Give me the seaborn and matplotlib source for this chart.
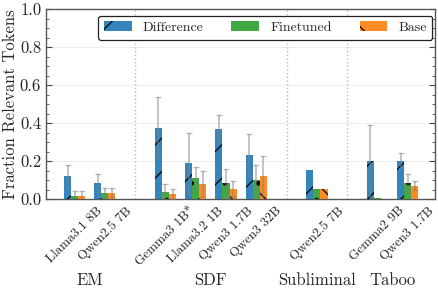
import numpy as np
import pandas as pd
import matplotlib
matplotlib.use("Agg")
import matplotlib.pyplot as plt
from matplotlib.patches import Patch
from matplotlib.ticker import AutoMinorLocator
import seaborn as sns

# ---------------- data ----------------
groups = ["EM", "SDF", "Subliminal", "Taboo"]
group_models = [
    ["Llama3.1 8B", "Qwen2.5 7B"],
    ["Gemma3 1B*", "Llama3.2 1B", "Qwen3 1.7B", "Qwen3 32B"],
    ["Qwen2.5 7B"],
    ["Gemma2 9B", "Qwen3 1.7B"],
]
series = ["Difference", "Finetuned", "Base"]
difference = [0.120, 0.083, 0.376, 0.190, 0.371, 0.230, 0.151, 0.202, 0.202]
difference_err = [0.060, 0.047, 0.160, 0.160, 0.070, 0.110, np.nan, 0.187, 0.041]
finetuned = [0.017, 0.033, 0.037, 0.112, 0.082, 0.100, 0.051, 0.003, 0.084]
finetuned_err = [0.025, 0.023, 0.042, 0.057, 0.075, 0.080, np.nan, np.nan, 0.046]
base = [0.017, 0.033, 0.025, 0.081, 0.053, 0.121, 0.051, 0.002, 0.069]
base_err = [0.025, 0.023, 0.026, 0.068, 0.044, 0.106, np.nan, np.nan, 0.024]
yticks = [0.0, 0.2, 0.4, 0.6, 0.8, 1.0]

# ---------------- layout helpers ----------------
positions, labels, group_centers, separators = [], [], [], []
p = 0
for gi, models in enumerate(group_models):
    start = p
    for m in models:
        positions.append(p)
        labels.append(m)
        p += 1
    group_centers.append((start + p - 1) / 2)
    if gi < len(group_models) - 1:
        separators.append(p)
        p += 1

values = [difference, finetuned, base]
errors = [difference_err, finetuned_err, base_err]
rows = []
for s, vals in zip(series, values):
    for pos, v in zip(positions, vals):
        rows.append({"pos": pos, "series": s, "value": v})
df = pd.DataFrame(rows)

# ---------------- style ----------------
sns.set_style("white")
plt.rcParams["font.family"] = ["cmr10", "DejaVu Serif"]
plt.rcParams["mathtext.fontset"] = "cm"
plt.rcParams["axes.formatter.use_mathtext"] = True
plt.rcParams["hatch.linewidth"] = 1.0

colors = ["#1f77b4", "#2ca02c", "#ff7f0e"]
hatches = ["/", ".", "\\"]

fig = plt.figure(figsize=(4.39, 2.92), dpi=100)
ax = fig.add_axes([0.105, 0.3185, 0.886, 0.6505])

sns.barplot(data=df, x="pos", y="value", hue="series", hue_order=series,
            palette=colors, saturation=1, native_scale=True, width=0.7,
            errorbar=None, legend=False, ax=ax, zorder=3)

bar_conts = list(ax.containers)
for ci, cont in enumerate(bar_conts):
    xs, hs = [], []
    for bar in cont.patches:
        bar.set_hatch(hatches[ci])
        bar.set_edgecolor("black")
        bar.set_linewidth(0)
        bar.set_alpha(0.9)
        xs.append(bar.get_x() + bar.get_width() / 2)
        hs.append(bar.get_height())
    ax.errorbar(xs, hs, yerr=errors[ci], fmt="none", ecolor="gray",
                alpha=0.5, elinewidth=1.3, capsize=2, capthick=1.0, zorder=4)

# separators & grid
for sp in separators:
    ax.axvline(sp, color="#bbbbbb", ls=":", lw=1.0, zorder=1)
ax.yaxis.grid(True, color="#eeeeee", lw=0.8, zorder=0)
ax.set_axisbelow(True)

ax.set_xlim(-0.94, 11.9)
ax.set_ylim(0, 1.0)
ax.set_yticks(yticks)
ax.yaxis.set_minor_locator(AutoMinorLocator(4))
ax.set_yticklabels([f"{t:.1f}" for t in yticks], fontsize=12)
ax.set_xticks(positions)
ax.set_xticklabels(labels, rotation=45, ha="center", fontsize=9.5)
ax.tick_params(axis="x", length=0, pad=4)
ax.tick_params(axis="y", which="both", direction="in", left=True, right=True,
               color="#444444")
ax.tick_params(axis="y", which="major", length=4, width=0.8)
ax.tick_params(axis="y", which="minor", length=2, width=0.6)
for s in ax.spines.values():
    s.set_color("#555555")
    s.set_linewidth(1.0)

ax.set_xlabel("")
ax.set_ylabel("Fraction Relevant Tokens", fontsize=12, labelpad=1)

trans = matplotlib.transforms.blended_transform_factory(ax.transData, ax.transAxes)
for g, c in zip(groups, group_centers):
    ax.text(c, -0.43, g, transform=trans, ha="center", va="center", fontsize=12)

handles = [Patch(facecolor=col, hatch=h, edgecolor="black", lw=0, alpha=0.9,
                 label=s)
           for col, h, s in zip(colors, hatches, series)]
leg = ax.legend(handles=handles, ncol=3, loc="upper right",
                bbox_to_anchor=(0.993, 0.965), borderaxespad=0, fontsize=10,
                handlelength=2.0, handletextpad=0.8, columnspacing=2.0,
                borderpad=0.4, frameon=True, fancybox=True, framealpha=1)
leg.get_frame().set_edgecolor("#222222")
leg.get_frame().set_linewidth(0.9)

fig.savefig("out.png", dpi=100)
